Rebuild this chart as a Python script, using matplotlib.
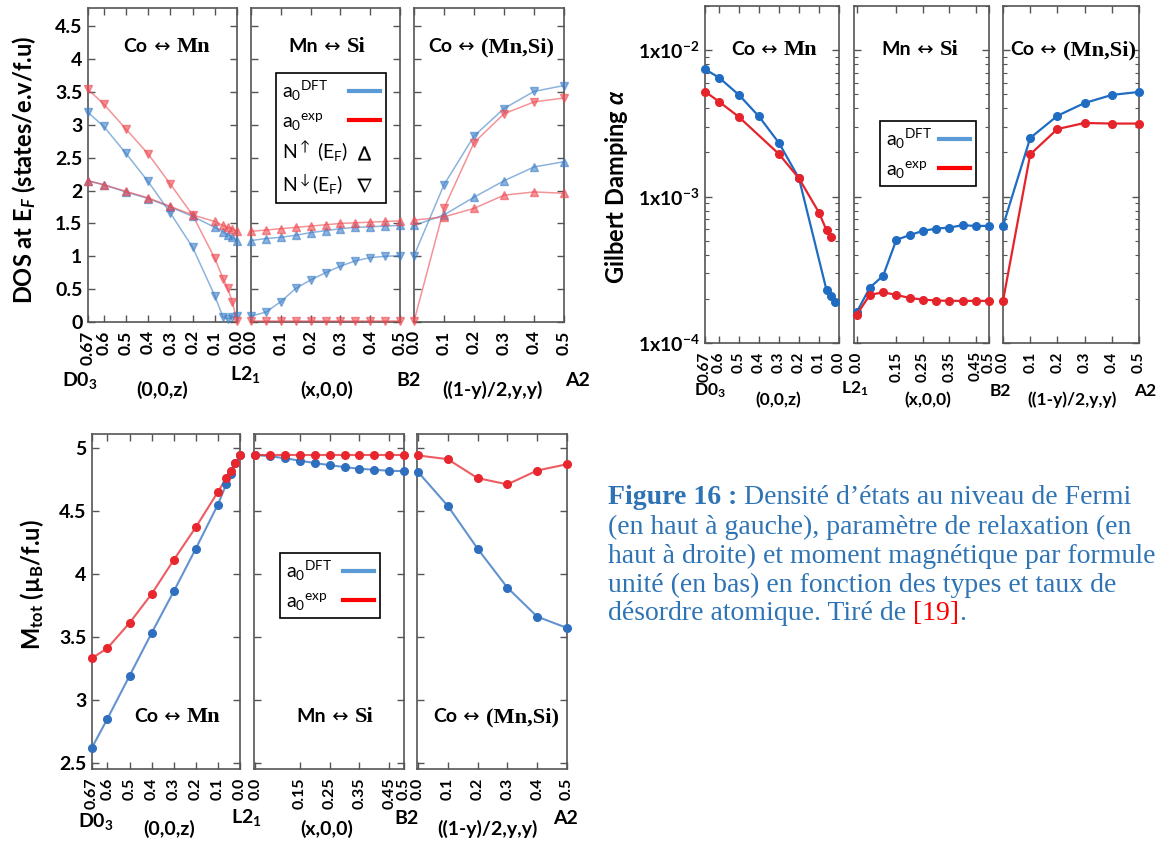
import matplotlib
matplotlib.use('Agg')
import matplotlib.pyplot as plt
from matplotlib.lines import Line2D
from matplotlib.offsetbox import TextArea, HPacker, AnchoredOffsetbox
from matplotlib.ticker import NullFormatter, LogLocator

plt.rcParams['font.family'] = ['Lato', 'DejaVu Sans']
plt.rcParams['mathtext.fontset'] = 'custom'
plt.rcParams['mathtext.rm'] = 'Lato'
plt.rcParams['mathtext.bf'] = 'Lato:bold'
plt.rcParams['mathtext.it'] = 'Lato:italic:bold'

# ---- data: density of states at E_F ----
z_co_mn = [0.67, 0.6, 0.5, 0.4, 0.3, 0.2, 0.1, 0.0625, 0.042, 0.021, 0.0]
x_mn_si = [0.0, 0.05, 0.1, 0.15, 0.2, 0.25, 0.3, 0.35, 0.4, 0.45, 0.5]
y_co_mnsi = [0.0, 0.1, 0.2, 0.3, 0.4, 0.5]

dos_com_dn_dft = [3.19, 2.98, 2.57, 2.14, 1.66, 1.14, 0.40, 0.07, 0.05, 0.07, 0.09]
dos_com_dn_exp = [3.54, 3.32, 2.94, 2.56, 2.10, 1.63, 0.97, 0.66, 0.51, 0.31, 0.01]
dos_com_up_dft = [2.15, 2.09, 1.98, 1.88, 1.75, 1.61, 1.44, 1.37, 1.33, 1.29, 1.24]
dos_com_up_exp = [2.15, 2.09, 1.99, 1.89, 1.76, 1.63, 1.53, 1.47, 1.44, 1.42, 1.38]

dos_mnsi_up_exp = [1.38, 1.40, 1.42, 1.44, 1.46, 1.48, 1.50, 1.51, 1.52, 1.53, 1.54]
dos_mnsi_up_dft = [1.24, 1.27, 1.29, 1.32, 1.36, 1.39, 1.42, 1.44, 1.45, 1.46, 1.47]
dos_mnsi_dn_dft = [0.09, 0.15, 0.31, 0.51, 0.64, 0.75, 0.85, 0.93, 0.98, 1.00, 1.01]
dos_mnsi_dn_exp = [0.01, 0.01, 0.01, 0.01, 0.01, 0.01, 0.01, 0.01, 0.01, 0.01, 0.01]

dos_cms_dn_dft = [1.01, 2.09, 2.83, 3.25, 3.51, 3.60]
dos_cms_dn_exp = [0.01, 1.73, 2.73, 3.17, 3.35, 3.41]
dos_cms_up_dft = [1.47, 1.63, 1.90, 2.15, 2.36, 2.44]
dos_cms_up_exp = [1.55, 1.60, 1.73, 1.93, 1.98, 1.96]

# ---- data: Gilbert damping ----
z_damp_dft = [0.67, 0.6, 0.5, 0.4, 0.3, 0.2, 0.0625, 0.042, 0.021]
z_damp_exp = [0.67, 0.6, 0.5, 0.3, 0.2, 0.1, 0.0625, 0.042]
damp_com_dft = [7.40e-3, 6.49e-3, 4.94e-3, 3.52e-3, 2.32e-3, 1.33e-3, 2.30e-4, 2.11e-4, 1.90e-4]
damp_com_exp = [5.21e-3, 4.45e-3, 3.49e-3, 1.95e-3, 1.33e-3, 7.77e-4, 5.89e-4, 5.31e-4]
damp_mnsi_dft = [1.62e-4, 2.39e-4, 2.88e-4, 5.06e-4, 5.45e-4, 5.83e-4, 6.04e-4, 6.14e-4, 6.37e-4, 6.30e-4, 6.30e-4]
damp_mnsi_exp = [1.56e-4, 2.13e-4, 2.22e-4, 2.13e-4, 2.03e-4, 1.98e-4, 1.95e-4, 1.94e-4, 1.94e-4, 1.94e-4, 1.94e-4]
damp_cms_dft = [6.30e-4, 2.51e-3, 3.56e-3, 4.35e-3, 4.94e-3, 5.18e-3]
damp_cms_exp = [1.94e-4, 1.94e-3, 2.89e-3, 3.18e-3, 3.15e-3, 3.15e-3]

# ---- data: total moment ----
m_com_dft = [2.62, 2.85, 3.19, 3.53, 3.86, 4.20, 4.55, 4.71, 4.79, 4.88, 4.94]
m_com_exp = [3.33, 3.41, 3.61, 3.84, 4.11, 4.37, 4.65, 4.76, 4.82, 4.88, 4.94]
m_mnsi_dft = [4.944, 4.933, 4.917, 4.898, 4.879, 4.863, 4.847, 4.834, 4.826, 4.818, 4.815]
m_mnsi_exp = [4.94, 4.94, 4.94, 4.94, 4.94, 4.94, 4.94, 4.94, 4.94, 4.94, 4.94]
m_cms_dft = [4.81, 4.54, 4.20, 3.89, 3.66, 3.57]
m_cms_exp = [4.94, 4.91, 4.76, 4.71, 4.82, 4.87]

# tick labels
ticks_z = [0.67, 0.6, 0.5, 0.4, 0.3, 0.2, 0.1, 0.0]
labels_z = ['0.67', '0.6', '0.5', '0.4', '0.3', '0.2', '0.1', '0.0']
ticks_x01 = [0.0, 0.1, 0.2, 0.3, 0.4, 0.5]
labels_x01 = ['0.0', '0.1', '0.2', '0.3', '0.4', '0.5']
ticks_xodd = [0.0, 0.15, 0.25, 0.35, 0.45, 0.5]
labels_xodd = ['0.0', '0.15', '0.25', '0.35', '0.45', '0.5']

W, H = 1163, 841
fig = plt.figure(figsize=(W / 100, H / 100), dpi=100)

SANS = ['Lato', 'DejaVu Sans']
SERIF = ['Liberation Serif', 'DejaVu Serif']
CAP = '#2E74B5'


def fxy(x, y):
    return x / W, 1 - y / H


def px_axes(x0, x1, y0, y1):
    return fig.add_axes([x0 / W, 1 - y1 / H, (x1 - x0) / W, (y1 - y0) / H])


def style(ax, xticks, xlabels, xlim, fs):
    ax.set_xlim(*xlim)
    ax.set_xticks(xticks, labels=xlabels, rotation=90, fontsize=fs, fontweight='bold')
    ax.tick_params(which='both', direction='in', top=True, right=True, color='#555555')
    ax.tick_params(axis='x', pad=6)
    ax.tick_params(axis='y', pad=4)
    ax.tick_params(which='major', length=5, width=1)
    ax.tick_params(which='minor', length=3, width=0.8)
    for s in ax.spines.values():
        s.set_color('#555555')
        s.set_linewidth(1.2)


def mixed(parts, x, y, loc='center'):
    boxes = []
    for txt, fam, col, w, fs in parts:
        boxes.append(TextArea(txt, textprops=dict(fontsize=fs, family=fam, color=col,
                                                  fontweight=w)))
    pack = HPacker(children=boxes, align='baseline', pad=0, sep=0)
    ab = AnchoredOffsetbox(loc=loc, child=pack, pad=0, borderpad=0, frameon=False,
                           bbox_to_anchor=fxy(x, y), bbox_transform=fig.transFigure)
    fig.add_artist(ab)


def panel_title(first, rest, x, y, fs=14):
    mixed([(first, SANS, 'black', 'bold', fs),
           (' \u2194 ', ['DejaVu Sans'], 'black', 'normal', fs),
           (rest, SERIF, 'black', 'bold', fs * 1.15)], x, y)


def bottom_labels(items, fs):
    for txt, x, y in items:
        fig.text(*fxy(x, y), txt, ha='center', va='center', fontsize=fs,
                 fontweight='bold')


def a0_legend(ax, x, y, box_w, extra=False, fs=14):
    handles = [Line2D([], [], color='#5b9bd5', lw=3), Line2D([], [], color='#ff0000', lw=3)]
    labels = [r'$\mathrm{a}_\mathrm{0}{}^\mathrm{DFT}$', r'$\mathrm{a}_\mathrm{0}{}^\mathrm{exp}$']
    if extra:
        handles += [Line2D([], [], ls='none', marker=r'$\Delta$', color='k', ms=10, mew=0.2),
                    Line2D([], [], ls='none', marker=r'$\nabla$', color='k', ms=10, mew=0.2)]
        labels += [r'N$^{\uparrow}$ (E$_\mathrm{F}$)', r'N$^{\downarrow}$(E$_\mathrm{F}$)']
    leg = ax.legend(handles, labels, loc='upper left', bbox_to_anchor=fxy(x, y),
                    bbox_transform=fig.transFigure, markerfirst=False, fancybox=False,
                    edgecolor='black', framealpha=1, fontsize=fs, handlelength=1.6,
                    borderaxespad=0, labelspacing=0.4, borderpad=0.3, handletextpad=0.3)
    leg.get_frame().set_linewidth(1.2)
    # text flush left, handles flush right as in the figure
    for col in leg._legend_handle_box.get_children():
        for item in col.get_children():
            item.mode = 'expand'
            item.width = box_w
    return leg


# ================= DOS (top left) =================
BLUE_D, RED_D = '#3f80c8', '#ee4b52'
dos_panels = [(88, 237), (251, 400), (414, 564)]
dos_axes = [px_axes(x0, x1, 8, 322) for x0, x1 in dos_panels]


def dos_line(ax, x, y, col, mk):
    ax.plot(x, y, color=col, lw=1.1, alpha=0.6, marker=mk, ms=6, mfc=col, mec=col,
            clip_on=False, zorder=3)


ax = dos_axes[0]
dos_line(ax, z_co_mn, dos_com_dn_dft, BLUE_D, 'v')
dos_line(ax, z_co_mn, dos_com_dn_exp, RED_D, 'v')
dos_line(ax, z_co_mn, dos_com_up_dft, BLUE_D, '^')
dos_line(ax, z_co_mn, dos_com_up_exp, RED_D, '^')
style(ax, ticks_z, labels_z, (0.67, 0.0), 12.5)

ax = dos_axes[1]
dos_line(ax, x_mn_si, dos_mnsi_dn_dft, BLUE_D, 'v')
dos_line(ax, x_mn_si, dos_mnsi_dn_exp, RED_D, 'v')
dos_line(ax, x_mn_si, dos_mnsi_up_dft, BLUE_D, '^')
dos_line(ax, x_mn_si, dos_mnsi_up_exp, RED_D, '^')
style(ax, ticks_x01, labels_x01, (0.0, 0.5), 12.5)

ax = dos_axes[2]
dos_line(ax, y_co_mnsi, dos_cms_dn_dft, BLUE_D, 'v')
dos_line(ax, y_co_mnsi, dos_cms_dn_exp, RED_D, 'v')
dos_line(ax, y_co_mnsi, dos_cms_up_dft, BLUE_D, '^')
dos_line(ax, y_co_mnsi, dos_cms_up_exp, RED_D, '^')
style(ax, ticks_x01, labels_x01, (0.0, 0.5), 12.5)

dos_yt = [0, 0.5, 1, 1.5, 2, 2.5, 3, 3.5, 4, 4.5]
for i, ax in enumerate(dos_axes):
    ax.set_ylim(0, 4.78)
    ax.set_yticks(dos_yt, labels=['%g' % v for v in dos_yt], fontsize=14,
                  fontweight='bold')
    if i > 0:
        ax.tick_params(labelleft=False)

a0_legend(dos_axes[1], 276, 73, 98, extra=True)
fig.text(*fxy(24, 170), r'DOS at E$_{F}$ (states/e.v/f.u)', rotation=90, ha='center',
         va='center', fontsize=17, fontweight='bold')
panel_title('Co', 'Mn', 167, 47)
panel_title('Mn', 'Si', 327, 47)
panel_title('Co', '(Mn,Si)', 491, 47)
bottom_labels([(r'D0$_\mathbf{3}$', 80, 381), ('(0,0,z)', 162, 390),
               (r'L2$_\mathbf{1}$', 245, 375), ('(x,0,0)', 327, 390),
               ('B2', 408, 381), ('((1-y)/2,y,y)', 492, 390), ('A2', 577, 381)], 14)

# ================= Gilbert damping (top right) =================
BLUE_G, RED_G = '#1f6cc2', '#e5232b'
damp_panels = [(705, 839), (854, 989), (1003, 1139)]
damp_axes = [px_axes(x0, x1, 6, 343) for x0, x1 in damp_panels]


def damp_line(ax, x, y, col):
    ax.plot(x, y, color=col, lw=1.6, marker='o', ms=5.5, mfc=col, mec=col, clip_on=False,
            zorder=3)


ax = damp_axes[0]
damp_line(ax, z_damp_dft, damp_com_dft, BLUE_G)
damp_line(ax, z_damp_exp, damp_com_exp, RED_G)
style(ax, ticks_z, labels_z, (0.67, 0.0), 11)

ax = damp_axes[1]
damp_line(ax, x_mn_si, damp_mnsi_dft, BLUE_G)
damp_line(ax, x_mn_si, damp_mnsi_exp, RED_G)
style(ax, ticks_xodd, labels_xodd, (-0.01, 0.5), 11)

ax = damp_axes[2]
damp_line(ax, y_co_mnsi, damp_cms_dft, BLUE_G)
damp_line(ax, y_co_mnsi, damp_cms_exp, RED_G)
style(ax, ticks_x01, labels_x01, (0.0, 0.5), 11)

for i, ax in enumerate(damp_axes):
    ax.set_yscale('log')
    ax.set_ylim(1e-4, 2.0e-2)
    ax.set_yticks([1e-4, 1e-3, 1e-2],
                  labels=[r'1x10$^\mathbf{-4}$', r'1x10$^\mathbf{-3}$', r'1x10$^\mathbf{-2}$'],
                  fontsize=14, fontweight='bold')
    ax.yaxis.set_minor_locator(LogLocator(base=10, subs=range(2, 10)))
    ax.yaxis.set_minor_formatter(NullFormatter())
    if i > 0:
        ax.tick_params(labelleft=False)

a0_legend(damp_axes[1], 880, 121, 84)
fig.text(*fxy(617, 187), r'Gilbert Damping $\alpha$', rotation=90, ha='center',
         va='center', fontsize=17, fontweight='bold')
panel_title('Co', 'Mn', 774, 50)
panel_title('Mn', 'Si', 920, 50)
panel_title('Co', '(Mn,Si)', 1073, 50)
bottom_labels([(r'D0$_\mathbf{3}$', 710, 391), ('(0,0,z)', 778, 400),
               (r'L2$_\mathbf{1}$', 855, 389), ('(x,0,0)', 928, 400),
               ('B2', 1000, 391), ('((1-y)/2,y,y)', 1072, 400), ('A2', 1145, 391)], 12.5)

# ================= total moment (bottom left) =================
BLUE_M, RED_M = '#2f6fbf', '#e8262e'
m_panels = [(92, 240), (254, 404), (417, 567)]
m_axes = [px_axes(x0, x1, 434, 769) for x0, x1 in m_panels]


def m_line(ax, x, y, col):
    ax.plot(x, y, color=col, lw=1.5, alpha=0.75, clip_on=False, zorder=3)
    ax.plot(x, y, ls='none', marker='o', ms=5.5, color=col, clip_on=False, zorder=4)


ax = m_axes[0]
m_line(ax, z_co_mn, m_com_dft, BLUE_M)
m_line(ax, z_co_mn, m_com_exp, RED_M)
style(ax, ticks_z, labels_z, (0.67, 0.0), 11.5)

ax = m_axes[1]
m_line(ax, x_mn_si, m_mnsi_dft, BLUE_M)
m_line(ax, x_mn_si, m_mnsi_exp, RED_M)
style(ax, ticks_xodd, labels_xodd, (-0.005, 0.5), 11.5)

ax = m_axes[2]
m_line(ax, y_co_mnsi, m_cms_dft, BLUE_M)
m_line(ax, y_co_mnsi, m_cms_exp, RED_M)
style(ax, ticks_x01, labels_x01, (-0.003, 0.5), 11.5)

m_yt = [2.5, 3, 3.5, 4, 4.5, 5]
for i, ax in enumerate(m_axes):
    ax.set_ylim(2.45, 5.11)
    ax.set_yticks(m_yt, labels=['%g' % v for v in m_yt], fontsize=14,
                  fontweight='bold')
    if i > 0:
        ax.tick_params(labelleft=False)

a0_legend(m_axes[1], 280, 553, 88)
fig.text(*fxy(32, 585), 'M$_\\mathbf{tot}$ (\u00b5$_\\mathbf{B}$/f.u)', rotation=90,
         ha='center', va='center', fontsize=17, fontweight='bold')
panel_title('Co', 'Mn', 177, 717)
panel_title('Mn', 'Si', 335, 717)
panel_title('Co', '(Mn,Si)', 496, 717)
bottom_labels([(r'D0$_\mathbf{3}$', 96, 821), ('(0,0,z)', 169, 829),
               (r'L2$_\mathbf{1}$', 246, 817), ('(x,0,0)', 327, 829),
               ('B2', 406, 819), ('((1-y)/2,y,y)', 487, 829), ('A2', 565, 819)], 14)

# ================= caption =================
CAP_FS = 20
cap_lines = [
    [('Figure 16 :', SERIF, CAP, 'bold', CAP_FS),
     (' Densité d\u2019états au niveau de Fermi', SERIF, CAP, 'normal', CAP_FS)],
    [('(en haut à gauche), paramètre de relaxation (en', SERIF, CAP, 'normal', CAP_FS)],
    [('haut à droite) et moment magnétique par formule', SERIF, CAP, 'normal', CAP_FS)],
    [('unité (en bas) en fonction des types et taux de', SERIF, CAP, 'normal', CAP_FS)],
    [('désordre atomique. Tiré de ', SERIF, CAP, 'normal', CAP_FS),
     ('[19]', SERIF, '#ff0000', 'normal', CAP_FS),
     ('.', SERIF, CAP, 'normal', CAP_FS)],
]
cap_y = [497, 527, 556, 585, 613]
for parts, yy in zip(cap_lines, cap_y):
    mixed(parts, 608, yy, loc='center left')

fig.savefig('out.png', dpi=100)
